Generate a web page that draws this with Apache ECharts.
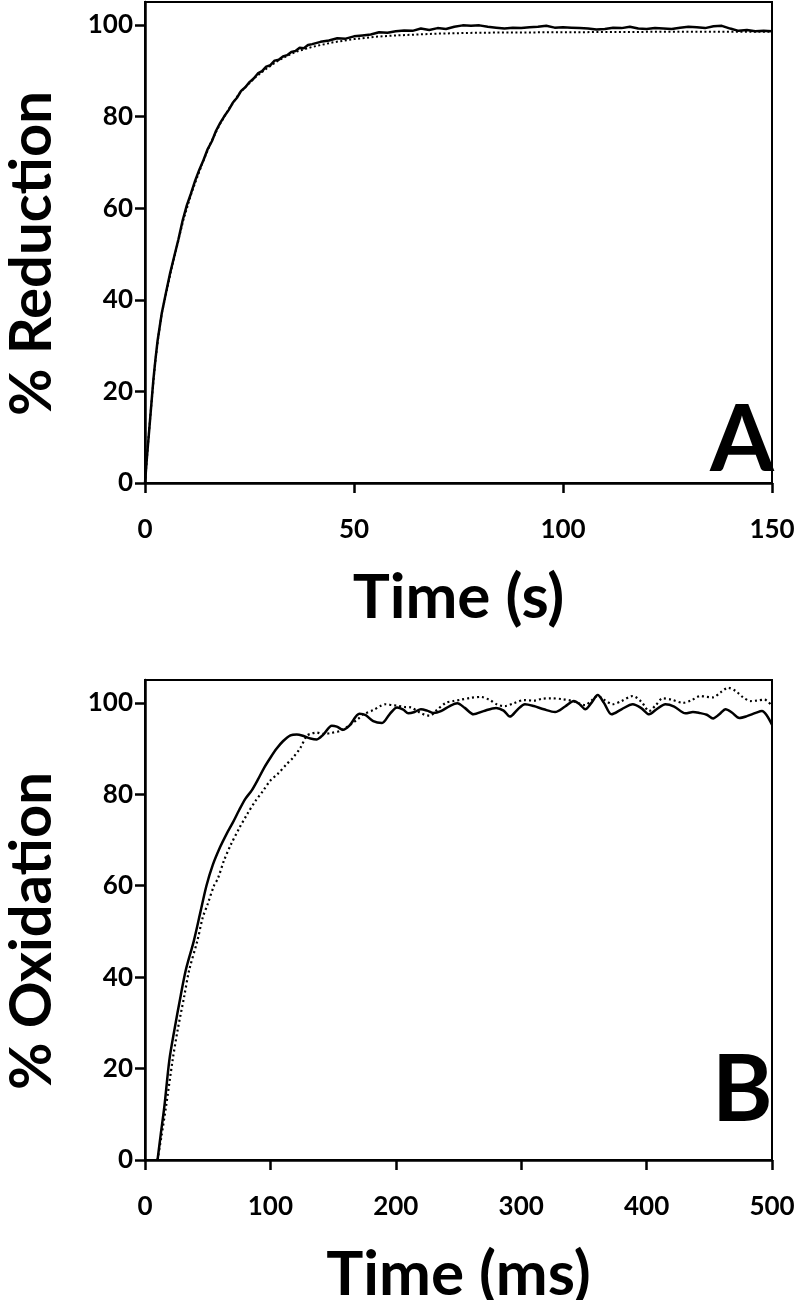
<!DOCTYPE html>
<html>
<head>
<meta charset="utf-8">
<script src="https://cdn.jsdelivr.net/npm/echarts@6/dist/echarts.min.js"></script>
<style>
html,body{margin:0;padding:0;background:#fff;}
#chart{width:800px;height:1300px;}
</style>
</head>
<body>
<div id="chart"></div>
<script>
// ---- Panel A: % Reduction vs Time (s) ----
const redTicksY = [0, 20, 40, 60, 80, 100];
const redTicksX = [0, 50, 100, 150];
const redObserved = [
[0,0],[0.5,6],[1,11.5],[1.5,17],[2,22.5],[2.5,27],[3,31],[3.5,34],[4,37],[5,41.5],[6,45.8],[7,49.5],[8,53.2],[9,57.3],[10,60.6],[11,63.2],[12,66],[13,68.4],[14,70.5],[15,72.9],[16,74.6],[17,76.9],[18,78.6],[19,80.1],[20,81.4],[21,83],[22,84.1],[23,85.6],[24,86.4],[25,87.5],[26,88.3],[27,89.4],[28,89.9],[29,90.9],[30,91.2],[31,92.2],[32,92.4],[33,93.1],[34,93.4],[35,94.1],[36,94.3],[37,95.0],[38,94.9],[39,95.6],[40,95.8],[42,96.3],[44,96.6],[46,97.1],[48,97.0],[50,97.5],[52,97.7],[54,97.9],[56,98.4],[58,98.3],[60,98.6],[62,98.8],[64,98.7],[66,99.2],[68,98.9],[70,99.3],[72,99.1],[74,99.6],[76,99.9],[78,99.8],[80,99.9],[82,99.6],[84,99.4],[86,99.2],[88,99.4],[90,99.3],[92,99.5],[94,99.6],[96,99.8],[98,99.4],[100,99.5],[102,99.4],[104,99.3],[106,99.2],[108,99.0],[110,99.1],[112,99.4],[114,99.3],[116,99.6],[118,99.2],[120,99.1],[122,99.3],[124,99.2],[126,99.1],[128,99.4],[130,99.6],[132,99.5],[134,99.3],[136,99.7],[138,99.8],[140,99.2],[142,98.7],[144,98.9],[146,98.6],[148,98.7],[150,98.6]
];
const redFit = [
[0,0],[0.8,9.4],[1.6,18],[2.4,26],[3.2,32],[4,37],[5.2,42],[6.4,47],[8,53],[9.2,57.5],[11.2,63.5],[13.6,69.5],[15.6,74],[17.9,78.3],[20.3,82],[22.7,85.2],[26.3,88.5],[28.7,90.2],[31.5,92],[33.9,93.2],[36.3,94.2],[40,95.2],[45,96.2],[50,96.9],[55,97.4],[60,97.7],[70,98.1],[80,98.3],[100,98.4],[125,98.5],[150,98.5]
];

// ---- Panel B: % Oxidation vs Time (ms) ----
const oxTicksY = [0, 20, 40, 60, 80, 100];
const oxTicksX = [0, 100, 200, 300, 400, 500];
const oxObserved = [
[10,0],[12.5,5.5],[15.4,11.6],[19.4,21.8],[23.4,28.4],[28.5,36],[32.5,41.5],[39,48],[44,54],[49,60],[54,64.5],[60,68.5],[65,71.3],[70,73.8],[75,76.5],[80,79],[85,80.8],[90,83.2],[95,85.8],[100,88],[105,90],[110,91.6],[116,92.9],[121,93.1],[127,92.7],[132,92.2],[137,92.0],[142,93],[149,95],[153,94.8],[158,94.1],[163,95],[171,97.6],[176,97.3],[182,96],[189,95.6],[195,97.5],[201,99],[206,98.5],[210,97.7],[215,98],[220,98.6],[225,98.3],[230,97.8],[236,98.2],[243,99.3],[249,99.9],[255,98.9],[262,97.5],[270,98.2],[280,98.9],[286,98.3],[291,97],[297,98.5],[303,99.7],[310,99.3],[318,98.6],[327,98],[335,99.2],[342,100.4],[347,99.6],[351,98.6],[356,100],[361,101.7],[366,100],[372,97.5],[380,98.6],[389,99.7],[396,98.8],[402,97.5],[408,98.6],[415,99.7],[422,99.2],[431,97.7],[437,98],[442,97.8],[448,97.4],[453,96.6],[458,97.5],[463,98.6],[468,97.9],[474,96.7],[480,97.1],[487,97.8],[492,98.2],[496,97.2],[500,95.2]
];
const oxFit = [
[10,0],[13,5],[16.7,11.6],[22,21.8],[26,28.4],[31.2,35.7],[35.2,41.5],[41.8,48],[46,53],[50,56],[55,60],[58,61.5],[63,65.5],[68.5,69],[75,72.5],[81.6,75.7],[88,78.5],[94,80.7],[100,83],[106,84.5],[113,86.6],[118,88],[124,90.2],[129,92.8],[133,93.3],[137,93.5],[142,93.2],[148,93.4],[156,93.9],[164,95.3],[170,96.5],[174,97.5],[182,98.4],[187.6,99.3],[192,99.7],[197,99.5],[201,99.4],[207,99.1],[212,99],[219,97.9],[223,97.4],[227,97.2],[233,98.5],[240,100],[246,100.4],[252,100.7],[260,101.1],[268,101.3],[275,100.6],[281,99.6],[287,99.3],[294,99.9],[302,100.6],[310,100.5],[317,100.9],[324,101],[333,100.8],[341,100.4],[346,99.9],[351,99.5],[356,100.5],[361,101.5],[366,100.7],[373,99.7],[380,100.4],[389,101.5],[396,100.2],[402,98.2],[407,99.4],[413,101],[420,100.7],[429,100],[436,100.6],[443,101.5],[448,101.3],[453,101.2],[459,102.3],[465,103.3],[471,102.6],[477,101.2],[483,100.4],[488,100.5],[494,100.7],[500,99.3]
];

const FONT = 'Lato';
const chart = echarts.init(document.getElementById('chart'), null, {renderer: 'canvas'});

function onlyTicks(ticks) {
  return function (v) { return ticks.indexOf(v) >= 0 ? String(v) : ''; };
}
function xAxis(grid, max, ticks, name) {
  return {
    type: 'value', gridIndex: grid, min: 0, max: max, interval: ticks[1] - ticks[0],
    name: name, nameLocation: 'middle', nameGap: 84,
    nameTextStyle: {fontFamily: FONT, fontWeight: 'bold', fontSize: 62, color: '#000'},
    axisLine: {show: true, onZero: false, lineStyle: {color: '#000', width: 2.5}},
    axisTick: {show: true, inside: false, length: 10, lineStyle: {color: '#000', width: 2.5}},
    axisLabel: {show: true, margin: 34, fontFamily: FONT, fontWeight: 'bold', fontSize: 26, color: '#000',
                formatter: onlyTicks(ticks)},
    splitLine: {show: false}
  };
}
function yAxis(grid, ticks, name) {
  return {
    type: 'value', gridIndex: grid, min: 0, max: 105, interval: 20,
    name: name, nameLocation: 'middle', nameGap: 84,
    nameTextStyle: {fontFamily: FONT, fontWeight: 'bold', fontSize: 58, color: '#000', padding: [0, 22, 0, 0]},
    axisLine: {show: true, onZero: false, lineStyle: {color: '#000', width: 2.5}},
    axisTick: {show: true, inside: false, length: 10, lineStyle: {color: '#000', width: 2.5}, customValues: ticks},
    axisLabel: {show: true, margin: 12, fontFamily: FONT, fontWeight: 'bold', fontSize: 26, color: '#000',
                customValues: ticks, formatter: onlyTicks(ticks)},
    splitLine: {show: false}
  };
}

chart.setOption({
  animation: false,
  backgroundColor: '#fff',
  grid: [
    {left: 145, right: 28, top: 2, height: 481, show: true, borderColor: '#000', borderWidth: 2,
     containLabel: false, outerBoundsMode: 'none'},
    {left: 145, right: 28, top: 680, height: 480, show: true, borderColor: '#000', borderWidth: 2,
     containLabel: false, outerBoundsMode: 'none'}
  ],
  xAxis: [
    xAxis(0, 150, redTicksX, 'Time (s)'),
    xAxis(1, 500, oxTicksX, 'Time (ms)')
  ],
  yAxis: [
    yAxis(0, redTicksY, '% Reduction'),
    yAxis(1, oxTicksY, '% Oxidation')
  ],
  series: [
    {type: 'line', xAxisIndex: 0, yAxisIndex: 0, data: redFit, showSymbol: false, symbol: 'none',
     lineStyle: {color: '#000', width: 2, type: [2, 2.5]}, z: 2},
    {type: 'line', xAxisIndex: 0, yAxisIndex: 0, data: redObserved, showSymbol: false, symbol: 'none',
     lineStyle: {color: '#000', width: 2.5}, z: 3},
    {type: 'line', xAxisIndex: 1, yAxisIndex: 1, data: oxFit, showSymbol: false, symbol: 'none', smooth: 0.3,
     lineStyle: {color: '#000', width: 2.2, type: [2, 3]}, z: 2},
    {type: 'line', xAxisIndex: 1, yAxisIndex: 1, data: oxObserved, showSymbol: false, symbol: 'none', smooth: 0.3,
     lineStyle: {color: '#000', width: 2.5}, z: 3}
  ],
  graphic: [
    {type: 'text', left: 710, top: 395, style: {text: 'A', fontFamily: FONT, fontWeight: 'bold', fontSize: 92, fill: '#000'}},
    {type: 'text', left: 712, top: 1045, style: {text: 'B', fontFamily: FONT, fontWeight: 'bold', fontSize: 92, fill: '#000'}}
  ]
});
</script>
</body>
</html>
